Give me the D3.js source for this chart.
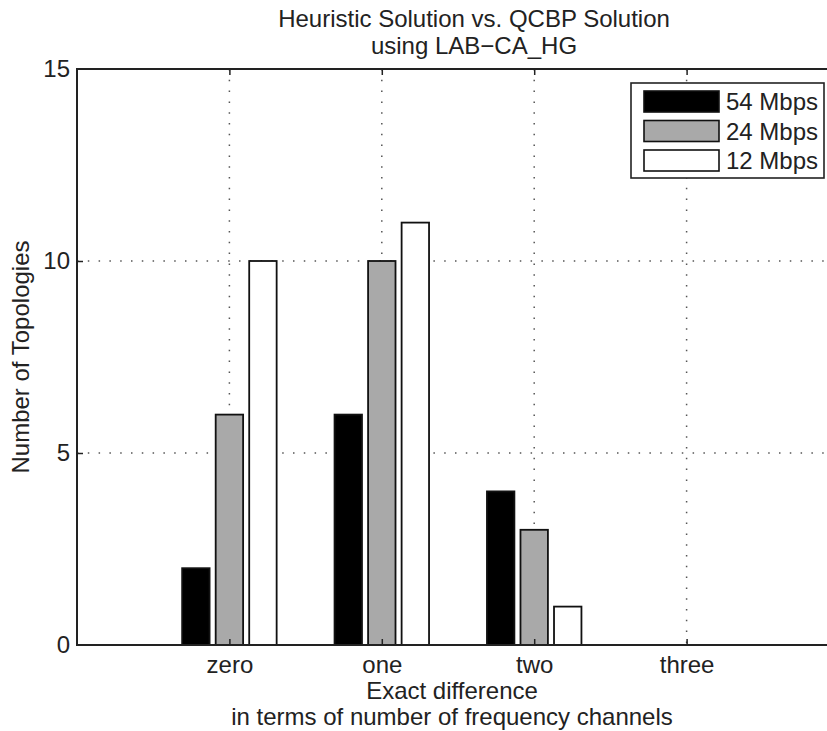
<!DOCTYPE html>
<html>
<head>
<meta charset="utf-8">
<script src="https://cdn.jsdelivr.net/npm/d3@7"></script>
<style>
  body { margin: 0; background: #fff; }
  text { font-family: "Liberation Sans", Arial, sans-serif; fill: #222; }
</style>
</head>
<body>
<div id="chart"></div>
<script>
// data
const categories = ["zero", "one", "two", "three"]
const seriesNames = ["54 Mbps", "24 Mbps", "12 Mbps"]
const mbps54 = [2, 6, 4, 0]
const mbps24 = [6, 10, 3, 0]
const mbps12 = [10, 11, 1, 0]
const yTicks = [0, 5, 10, 15]

const seriesValues = [mbps54, mbps24, mbps12]
const fills = ["#000", "#a9a9a9", "#fff"]
const offsets = [-0.22, 0, 0.22]
const barW = 0.18

const W = 827, H = 731
const mLeft = 77, mTop = 69, mBottom = 645
const fs = 24

const svg = d3.select("#chart")
  .append("svg")
    .attr("width", W)
    .attr("height", H)

// x runs 0..5, categories sit at 1..4 (the right edge is cut off by the image)
const x = d3.scaleLinear().domain([0, 5]).range([mLeft, mLeft + 5 * 152.4])
const y = d3.scaleLinear().domain([0, 15]).range([mBottom, mTop])
const catPos = categories.map((c, i) => i + 1)

// dotted grid
svg.append("g")
  .selectAll("line.vg")
  .data(catPos)
  .enter()
  .append("line")
    .attr("x1", d => x(d)).attr("x2", d => x(d))
    .attr("y1", mTop).attr("y2", mBottom)
    .attr("stroke", "#555")
    .attr("stroke-width", 1.5)
    .attr("stroke-dasharray", "1.5,9.3")

svg.append("g")
  .selectAll("line.hg")
  .data(yTicks.filter(d => d > 0 && d < 15))
  .enter()
  .append("line")
    .attr("x1", mLeft).attr("x2", W)
    .attr("y1", d => y(d)).attr("y2", d => y(d))
    .attr("stroke", "#555")
    .attr("stroke-width", 1.5)
    .attr("stroke-dasharray", "1.5,9.3")

// bars
seriesValues.forEach((vals, s) => {
  svg.append("g")
    .selectAll("rect")
    .data(vals)
    .enter()
    .filter(d => d > 0)
    .append("rect")
      .attr("x", (d, i) => x(catPos[i] + offsets[s] - barW / 2))
      .attr("y", d => y(d))
      .attr("width", x(barW) - x(0))
      .attr("height", d => y(0) - y(d))
      .attr("fill", fills[s])
      .attr("stroke", "#111")
      .attr("stroke-width", 1.8)
})

// axes
const xAxis = d3.axisBottom(x)
  .tickValues(catPos)
  .tickFormat((d, i) => categories[i])
  .tickSize(-6)
  .tickPadding(11)

const gx = svg.append("g")
  .attr("transform", `translate(0,${mBottom})`)
  .call(xAxis)

const gxTop = svg.append("g")
  .attr("transform", `translate(0,${mTop})`)
  .call(d3.axisTop(x).tickValues(catPos).tickFormat("").tickSize(-6))

const gy = svg.append("g")
  .attr("transform", `translate(${mLeft},0)`)
  .call(d3.axisLeft(y).tickValues(yTicks).tickSize(-6).tickPadding(7))

;[gx, gxTop, gy].forEach(g => {
  g.select(".domain").remove()
  g.selectAll(".tick line").attr("stroke", "#222").attr("stroke-width", 1.5)
  g.selectAll("text").attr("font-size", fs).attr("fill", "#222")
    .attr("font-family", "Liberation Sans, Arial, sans-serif")
})
gy.selectAll(".tick").filter(d => d === 0 || d === 15).select("line").remove()

// box lines (left, bottom, top)
svg.append("path")
  .attr("d", `M${W},${mTop}H${mLeft}V${mBottom}H${W}`)
  .attr("fill", "none")
  .attr("stroke", "#222")
  .attr("stroke-width", 2)

// titles
svg.append("text")
  .attr("x", 474).attr("y", 27)
  .attr("text-anchor", "middle")
  .attr("font-size", fs)
  .text("Heuristic Solution vs. QCBP Solution")
svg.append("text")
  .attr("x", 474).attr("y", 54)
  .attr("text-anchor", "middle")
  .attr("font-size", fs)
  .text("using LAB\u2212CA_HG")

svg.append("text")
  .attr("x", 452).attr("y", 699)
  .attr("text-anchor", "middle")
  .attr("font-size", fs)
  .text("Exact difference")
svg.append("text")
  .attr("x", 452).attr("y", 725)
  .attr("text-anchor", "middle")
  .attr("font-size", fs)
  .text("in terms of number of frequency channels")

svg.append("text")
  .attr("transform", `translate(29,${(mTop + mBottom) / 2}) rotate(-90)`)
  .attr("text-anchor", "middle")
  .attr("font-size", fs)
  .text("Number of Topologies")

// legend
const lg = svg.append("g").attr("transform", "translate(631,83)")
lg.append("rect")
  .attr("width", 193).attr("height", 95)
  .attr("fill", "#fff")
  .attr("stroke", "#222")
  .attr("stroke-width", 1.6)
seriesNames.forEach((name, i) => {
  lg.append("rect")
    .attr("x", 13).attr("y", 8 + i * 29.5)
    .attr("width", 75).attr("height", 21)
    .attr("fill", fills[i])
    .attr("stroke", "#111")
    .attr("stroke-width", 1.6)
  lg.append("text")
    .attr("x", 95).attr("y", 27 + i * 29.5)
    .attr("font-size", fs)
    .text(name)
})
</script>
</body>
</html>
